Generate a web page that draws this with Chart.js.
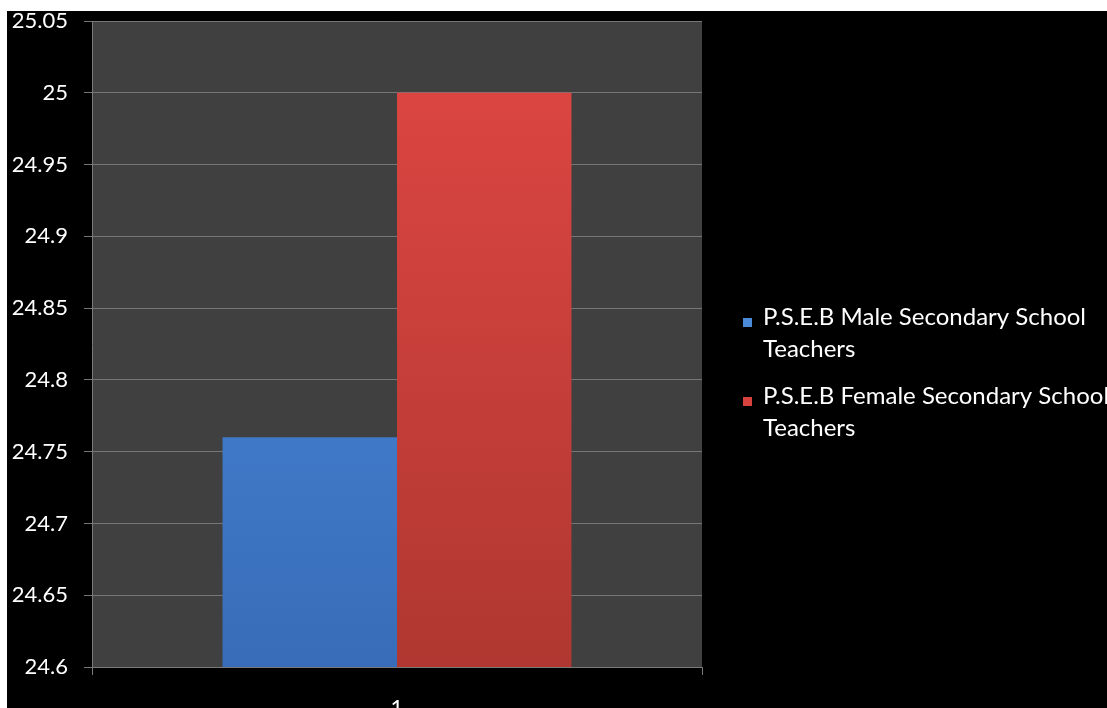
<!DOCTYPE html>
<html>
<head>
<meta charset="utf-8">
<script src="https://cdn.jsdelivr.net/npm/chart.js@4"></script>
<style>
  body { margin: 0; background: #fff; }
  #wrap { position: absolute; left: 7px; top: 11px; width: 1100px; height: 697px; background: #000; }
</style>
</head>
<body>
<div id="wrap"><canvas id="chart"></canvas></div>
<script>
// Data
let categories = ["1"];
let seriesNames = ["P.S.E.B Male Secondary School Teachers", "P.S.E.B Female Secondary School Teachers"];
let maleValues = [24.76];
let femaleValues = [25.0];
let yMin = 24.6, yMax = 25.05, yStep = 0.05;

let fontFamily = "Lato, 'Open Sans', sans-serif";

// gradient fill for bars
function barGradient(top, bottom) {
    return (c) => {
        let area = c.chart.chartArea;
        if (!area) return top;
        let g = c.chart.ctx.createLinearGradient(0, area.top, 0, area.bottom);
        g.addColorStop(0, top);
        g.addColorStop(1, bottom);
        return g;
    };
}

// custom legend on the right, wrapped in two lines like the original
let sideLegend = {
    id: "sideLegend",
    afterDraw(chart) {
        let ctx = chart.ctx;
        let colors = ["#4a8ad8", "#d8423e"];
        ctx.save();
        ctx.font = "24px " + fontFamily;
        ctx.textBaseline = "middle";
        chart.data.datasets.forEach((ds, i) => {
            let words = ds.label.split(" ");
            let line1 = words.slice(0, -1).join(" ");
            let line2 = words[words.length - 1];
            let yy = 306 + i * 79;
            ctx.fillStyle = colors[i];
            ctx.fillRect(736, yy + 1, 9, 9);
            ctx.fillStyle = "#fff";
            ctx.fillText(line1, 756, yy);
            ctx.fillText(line2, 756, yy + 32);
        });
        ctx.restore();
    }
};

let ctx = document.getElementById("chart").getContext("2d");
new Chart(ctx, {
    type: "bar",
    data: {
        labels: categories,
        datasets: [
            {
                label: seriesNames[0],
                data: maleValues,
                backgroundColor: barGradient("#4d90e2", "#386cb8"),
                borderWidth: 0,
            },
            {
                label: seriesNames[1],
                data: femaleValues,
                backgroundColor: barGradient("#e04743", "#b03731"),
                borderWidth: 0,
            },
        ],
    },
    options: {
        responsive: true,
        maintainAspectRatio: false,
        animation: false,
        layout: { padding: { top: 10, right: 405, left: 0, bottom: 0 } },
        datasets: { bar: { barPercentage: 1, categoryPercentage: 0.572 } },
        plugins: {
            legend: { display: false },
            tooltip: { enabled: false },
        },
        scales: {
            x: {
                grid: { display: true, drawOnChartArea: false, color: "#7a7a7a", tickLength: 8, offset: true },
                border: { color: "#7a7a7a" },
                ticks: { color: "#fff", font: { family: fontFamily, size: 22 }, padding: 20 },
                afterFit(s) { s.height = 41; },
            },
            y: {
                min: yMin,
                max: yMax,
                ticks: {
                    stepSize: yStep,
                    color: "#fff",
                    font: { family: fontFamily, size: 22 },
                    padding: 16,
                    callback: (v) => parseFloat(v.toFixed(2)),
                },
                grid: { color: "#767676", tickLength: 8 },
                border: { color: "#7a7a7a" },
                afterFit(s) { s.width = 85; s.paddingTop = 0; s.paddingBottom = 0; },
            },
        },
    },
    plugins: [
        {
            id: "plotBg",
            beforeDraw(chart) {
                let a = chart.chartArea;
                chart.ctx.save();
                chart.ctx.fillStyle = "#404040";
                chart.ctx.fillRect(a.left, a.top, a.right - a.left, a.bottom - a.top);
                chart.ctx.restore();
            },
        },
        sideLegend,
    ],
});
</script>
</body>
</html>
